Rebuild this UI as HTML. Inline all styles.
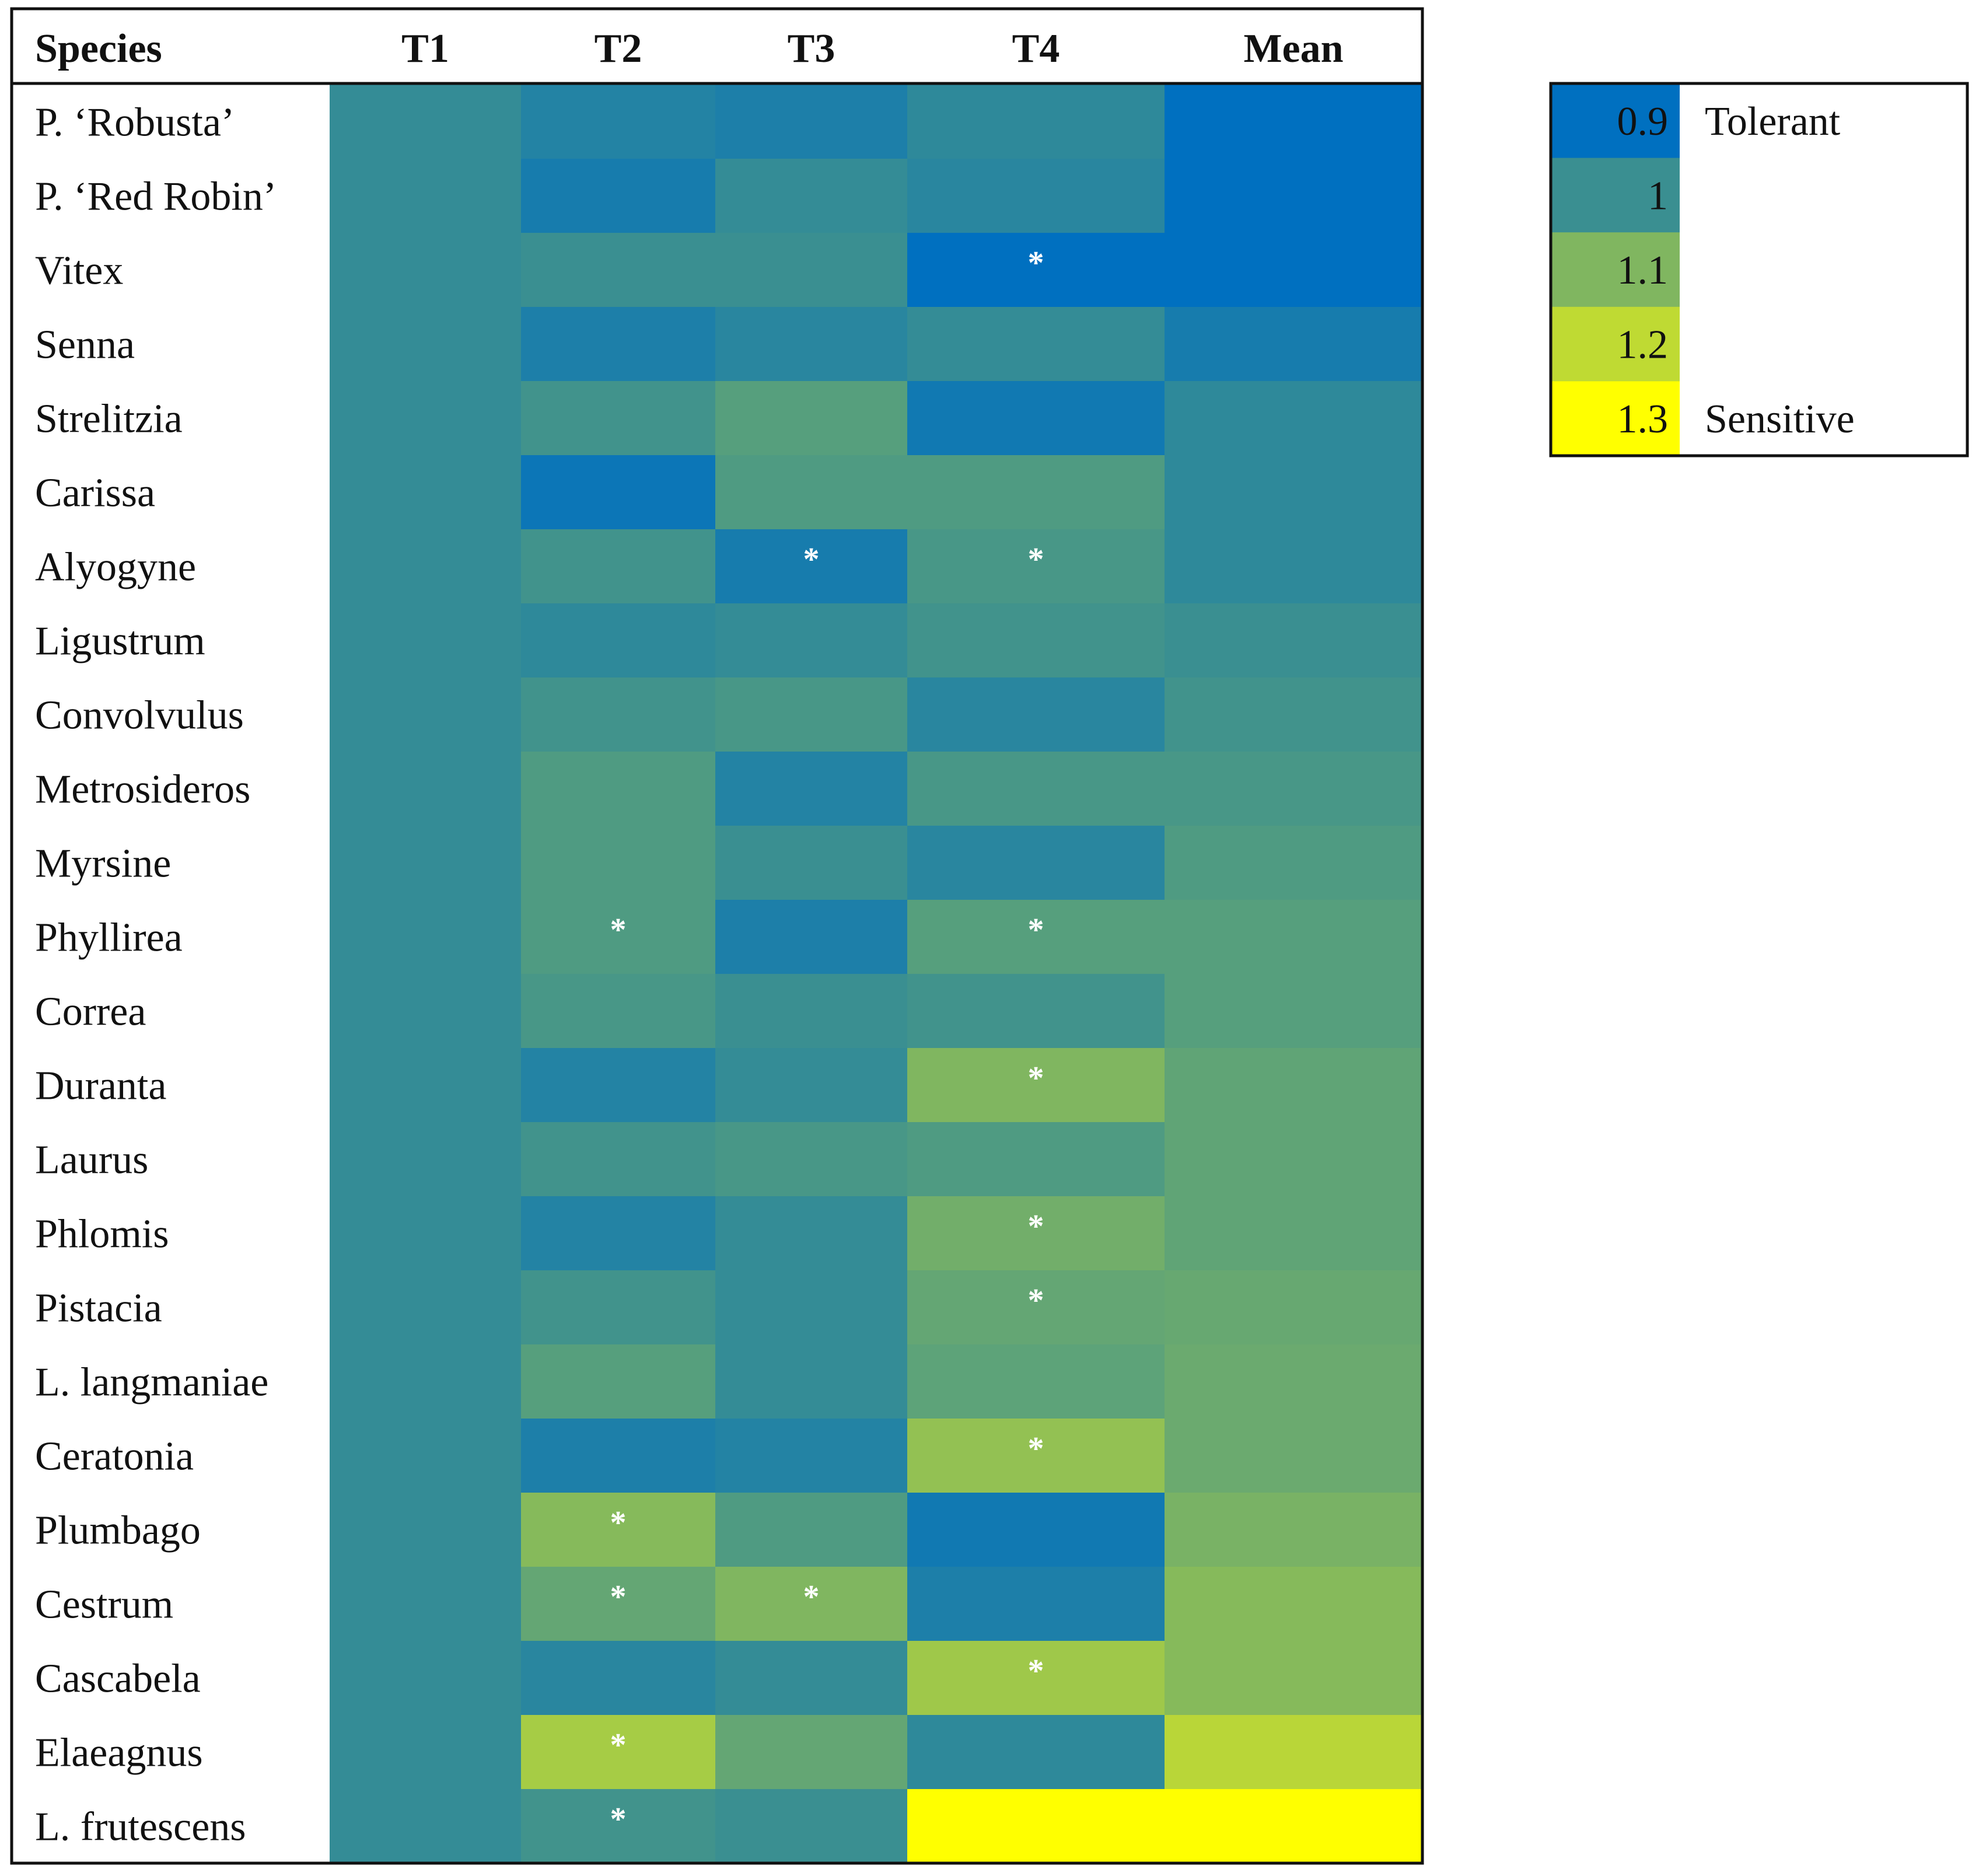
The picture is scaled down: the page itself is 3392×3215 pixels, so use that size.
<!DOCTYPE html>
<html><head><meta charset="utf-8"><style>
html,body{margin:0;padding:0;background:#fff;}
svg{display:block;}
text{font-family:"Liberation Serif",serif;}
</style></head><body>
<svg id="chart" width="3392" height="3215" viewBox="0 0 3392 3215" xmlns="http://www.w3.org/2000/svg">
<rect width="3392" height="3215" fill="#fff"/>
<g id="cells"></g>
<g id="labels"></g>
<g id="legend"></g>
</svg>
<script>
const species = ["P. \u2018Robusta\u2019","P. \u2018Red Robin\u2019","Vitex","Senna","Strelitzia","Carissa","Alyogyne","Ligustrum","Convolvulus","Metrosideros","Myrsine","Phyllirea","Correa","Duranta","Laurus","Phlomis","Pistacia","L. langmaniae","Ceratonia","Plumbago","Cestrum","Cascabela","Elaeagnus","L. frutescens"];
const columns = ["T1","T2","T3","T4","Mean"];
const t1 = [0.99,0.99,0.99,0.99,0.99,0.99,0.99,0.99,0.99,0.99,0.99,0.99,0.99,0.99,0.99,0.99,0.99,0.99,0.99,0.99,0.99,0.99,0.99,0.99];
const t2 = [0.96,0.94,1.0,0.95,1.01,0.92,1.01,0.98,1.01,1.03,1.03,1.03,1.02,0.96,1.01,0.96,1.01,1.04,0.95,1.11,1.06,0.97,1.16,1.01];
const t3 = [0.95,0.99,1.0,0.97,1.04,1.03,0.94,0.99,1.02,0.96,1.0,0.95,1.0,0.99,1.02,0.99,0.99,0.99,0.96,1.03,1.10,0.99,1.06,1.0];
const t4 = [0.98,0.97,0.90,0.99,0.93,1.03,1.02,1.01,0.97,1.02,0.97,1.04,1.01,1.10,1.03,1.08,1.06,1.05,1.13,0.93,0.95,1.15,0.98,1.30];
const meanVals = [0.90,0.90,0.90,0.94,0.98,0.98,0.98,1.0,1.01,1.02,1.03,1.04,1.04,1.055,1.055,1.055,1.065,1.07,1.07,1.09,1.11,1.11,1.19,1.30];
const sigT2 = [0,0,0,0,0,0,0,0,0,0,0,1,0,0,0,0,0,0,0,1,1,0,1,1];
const sigT3 = [0,0,0,0,0,0,1,0,0,0,0,0,0,0,0,0,0,0,0,0,1,0,0,0];
const sigT4 = [0,0,1,0,0,0,1,0,0,0,0,1,0,1,0,1,1,0,1,0,0,1,0,0];
const legendValues = [0.9,1,1.1,1.2,1.3];
const legendLabels = ["0.9","1","1.1","1.2","1.3"];
const legendWords = ["Tolerant","","","","Sensitive"];

const NS="http://www.w3.org/2000/svg";
const stops=[[0.9,[0,112,192]],[1.0,[58,143,145]],[1.1,[128,182,96]],[1.2,[191,218,51]],[1.3,[255,255,0]]];
function color(v){
  if(v<=stops[0][0]) return "rgb("+stops[0][1].join(",")+")";
  for(let i=0;i<stops.length-1;i++){
    const a=stops[i],b=stops[i+1];
    if(v<=b[0]){const t=(v-a[0])/(b[0]-a[0]);
      return "rgb("+a[1].map((c,k)=>Math.round(c+(b[1][k]-c)*t)).join(",")+")";}
  }
  return "rgb(255,255,0)";
}
const colX=[565,893,1226,1555,1996,2438];
const top0=145, rowH=(3193-145)/24;
function xCol(j){return colX[j];}
function yRow(i){return top0+i*rowH;}
function mk(tag,attrs,parent){const e=document.createElementNS(NS,tag);for(const k in attrs)e.setAttribute(k,attrs[k]);parent.appendChild(e);return e;}

const cells=document.getElementById("cells"), labels=document.getElementById("labels"), legend=document.getElementById("legend");
const series=[t1,t2,t3,t4,meanVals];
const sigs=[null,sigT2,sigT3,sigT4,null];
for(let j=0;j<series.length;j++){
  for(let i=0;i<species.length;i++){
    const r=mk("rect",{x:xCol(j),y:yRow(i),width:xCol(j+1)-xCol(j)+0.5,height:rowH+0.5,fill:color(series[j][i])},cells);
    
    
    if(sigs[j]&&sigs[j][i]){
      const s=mk("text",{x:(xCol(j)+xCol(j+1))/2,y:yRow(i)+rowH*0.55,"text-anchor":"middle","font-size":"56","font-weight":"bold",fill:"#fff"},cells);
      s.textContent="*";
      
      
    }
  }
}
for(let i=0;i<species.length;i++){
  const t=mk("text",{x:60,y:yRow(i)+rowH/2+24,"font-size":"70",fill:"#111"},labels);
  t.textContent=species[i];
  
  
}
const h=mk("text",{x:60,y:106,"font-size":"70","font-weight":"bold",fill:"#111"},labels);
h.textContent="Species";


for(let j=0;j<columns.length;j++){
  const t=mk("text",{x:(xCol(j)+xCol(j+1))/2,y:106,"font-size":"70","font-weight":"bold","text-anchor":"middle",fill:"#111"},labels);
  t.textContent=columns[j];
  
  
}
const border=mk("rect",{x:20,y:15,width:2418,height:3178,fill:"none",stroke:"#111","stroke-width":"5"},labels);


const hl=mk("line",{x1:20,x2:2438,y1:143,y2:143,stroke:"#111","stroke-width":"5"},labels);



const lx=2658, ly=143, lw=714, lsw=221, lrh=(781-143)/5;
for(let k=0;k<legendValues.length;k++){
  const r=mk("rect",{x:lx,y:ly+k*lrh,width:lsw,height:lrh+0.5,fill:color(legendValues[k])},legend);
  
  
  const t=mk("text",{x:lx+lsw-20,y:ly+k*lrh+lrh/2+24,"font-size":"70","text-anchor":"end",fill:"#111"},legend);
  t.textContent=legendLabels[k];
  
  
  if(legendWords[k]){
    const w=mk("text",{x:lx+264,y:ly+k*lrh+lrh/2+24,"font-size":"70",fill:"#111"},legend);
    w.textContent=legendWords[k];
    
    
  }
}
const lb=mk("rect",{x:lx,y:ly,width:lw,height:781-143,fill:"none",stroke:"#111","stroke-width":"5"},legend);


</script>
</body></html>
